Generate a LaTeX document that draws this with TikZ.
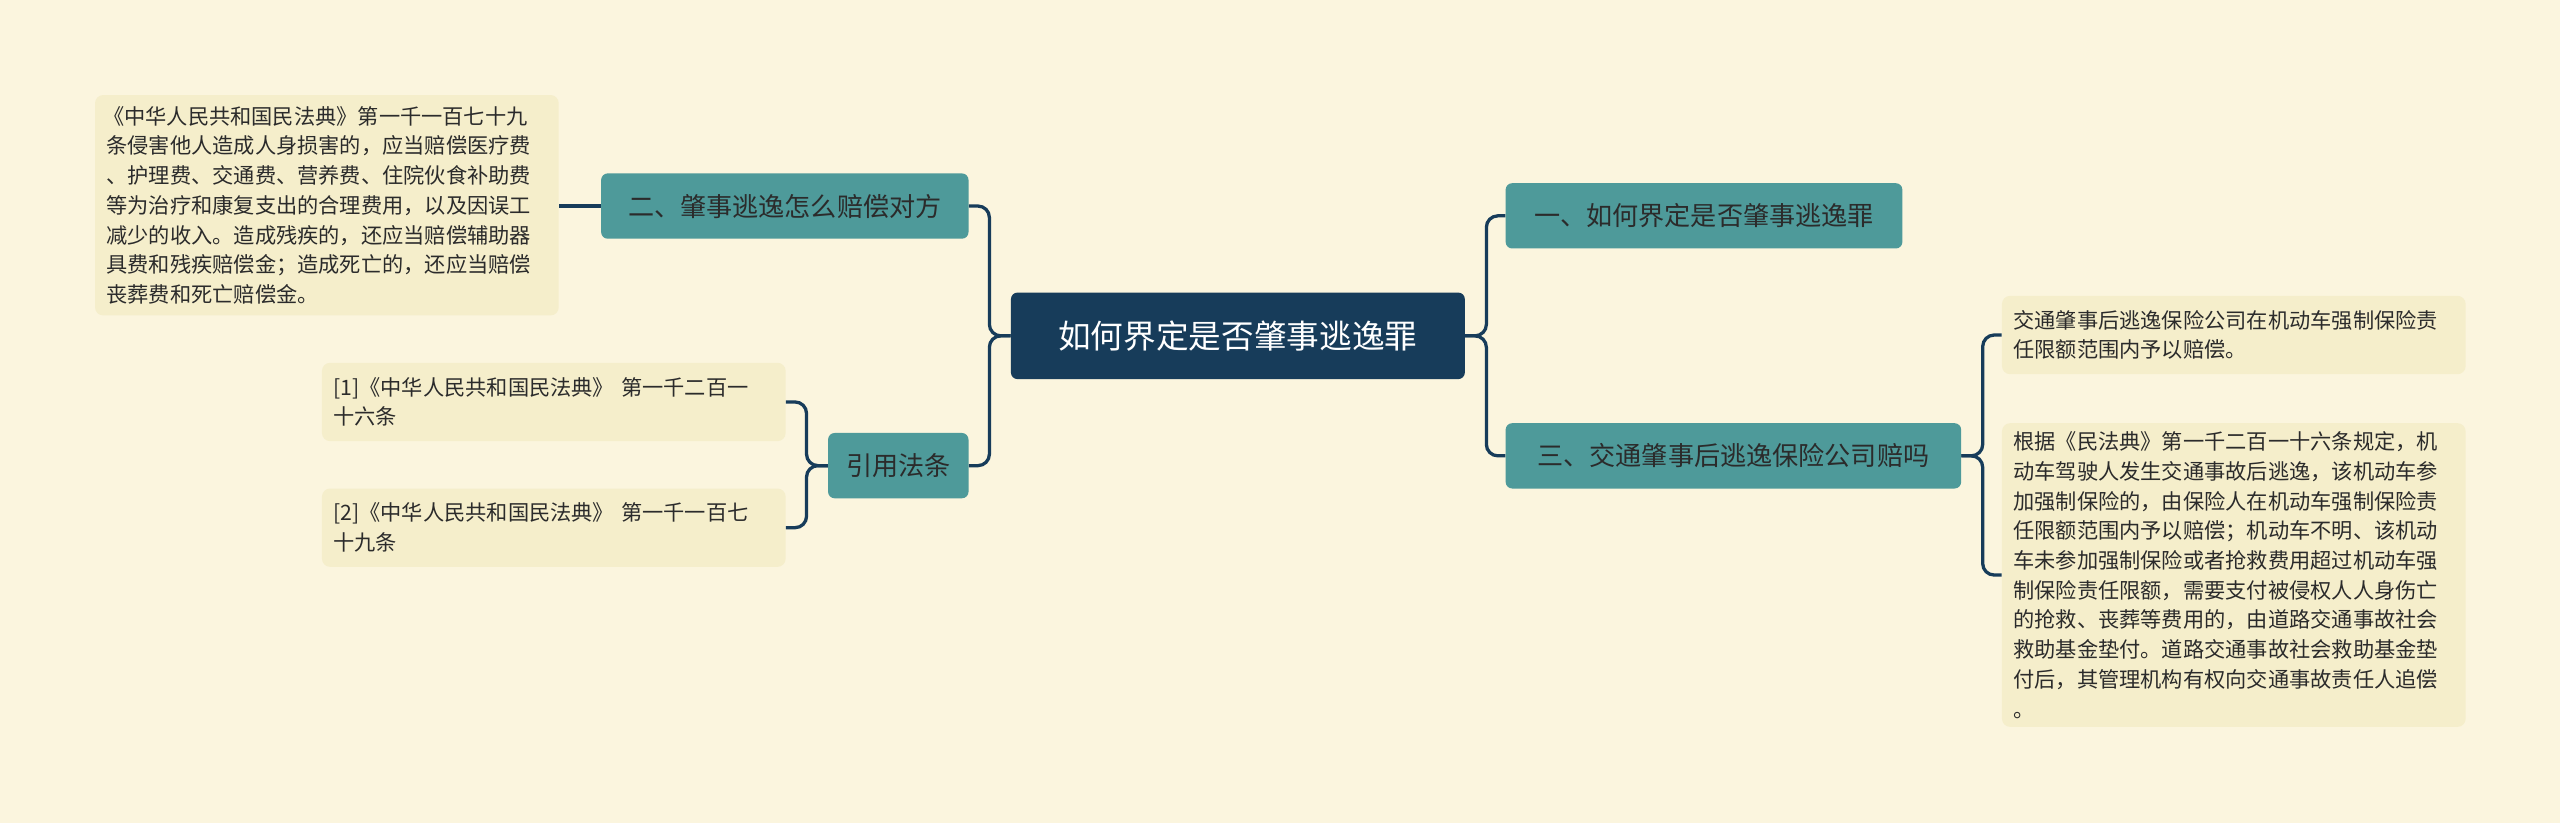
\documentclass[tikz,border=0pt]{standalone}
\usepackage{fontspec}
\setmainfont{Noto Sans CJK SC}
\definecolor{bg}{HTML}{FBF5DE}
\definecolor{navy}{HTML}{173C5A}
\definecolor{teal}{HTML}{4E9A9A}
\definecolor{leaf}{HTML}{F5EECB}
\definecolor{tx}{HTML}{2B2B2B}
\tikzset{
 root/.style={fill=navy,rounded corners=4pt,text=white,font=\fontsize{20}{24}\selectfont,inner sep=0pt,anchor=north west},
 sub/.style={fill=teal,rounded corners=4pt,text=tx,font=\fontsize{16}{20}\selectfont,inner sep=0pt,anchor=north west},
 lf/.style={fill=leaf,rounded corners=5pt,text=tx,font=\fontsize{13}{18.2}\selectfont,inner sep=0pt,anchor=north west,align=left},
 con/.style={draw=navy,line width=2pt,rounded corners=7pt}
}
\begin{document}
\begin{tikzpicture}[x=1pt,y=-1pt]
\fill[bg] (0,0) rectangle (1568,504);
\useasboundingbox (0,0) rectangle (1568,504);
\node[root,minimum width=278,minimum height=53] (c) at (619,179) {如何界定是否肇事逃逸罪};
\node[sub,minimum width=243,minimum height=40] (a1) at (922,112) {一、如何界定是否肇事逃逸罪};
\node[sub,minimum width=279,minimum height=40] (a3) at (922,259) {三、交通肇事后逃逸保险公司赔吗};
\node[sub,minimum width=225,minimum height=40] (a2) at (368,106) {二、肇事逃逸怎么赔偿对方};
\node[sub,minimum width=86,minimum height=40] (a4) at (507,265) {引用法条};
\node[lf,minimum width=284,minimum height=135,text width=270] (l1) at (58,58) {\hspace*{0pt}\kern-2pt《中华人民共和国民法典》第一千一百七十九\\条侵害他人造成人身损害的，应当赔偿医疗费\\、护理费、交通费、营养费、住院伙食补助费\\等为治疗和康复支出的合理费用，以及因误工\\减少的收入。造成残疾的，还应当赔偿辅助器\\具费和残疾赔偿金；造成死亡的，还应当赔偿\\丧葬费和死亡赔偿金。};
\node[lf,minimum width=284,minimum height=48,text width=270] (r1) at (197,222) {[1]《中华人民共和国民法典》 第一千二百一\\十六条};
\node[lf,minimum width=284,minimum height=48,text width=270] (r2) at (197,299) {[2]《中华人民共和国民法典》 第一千一百七\\十九条};
\node[lf,minimum width=284,minimum height=48,text width=270] (b1) at (1226,181) {交通肇事后逃逸保险公司在机动车强制保险责\\任限额范围内予以赔偿。};
\node[lf,minimum width=284,minimum height=186,text width=270] (b2) at (1226,259) {根据《民法典》第一千二百一十六条规定，机\\动车驾驶人发生交通事故后逃逸，该机动车参\\加强制保险的，由保险人在机动车强制保险责\\任限额范围内予以赔偿；机动车不明、该机动\\车未参加强制保险或者抢救费用超过机动车强\\制保险责任限额，需要支付被侵权人人身伤亡\\的抢救、丧葬等费用的，由道路交通事故社会\\救助基金垫付。道路交通事故社会救助基金垫\\付后，其管理机构有权向交通事故责任人追偿\\。};
\draw[con] (c.east) -- ++(13,0) |- (a1.west);
\draw[con] (c.east) -- ++(13,0) |- (a3.west);
\draw[con] (c.west) -- ++(-13,0) |- (a2.east);
\draw[con] (c.west) -- ++(-13,0) |- (a4.east);
\draw[con] (a2.west) -- (l1.east|-a2.west);
\draw[con] (a4.west) -- ++(-13,0) |- (r1.east);
\draw[con] (a4.west) -- ++(-13,0) |- (r2.east);
\draw[con] (a3.east) -- ++(13,0) |- (b1.west);
\draw[con] (a3.east) -- ++(13,0) |- (b2.west);
\end{tikzpicture}
\end{document}
